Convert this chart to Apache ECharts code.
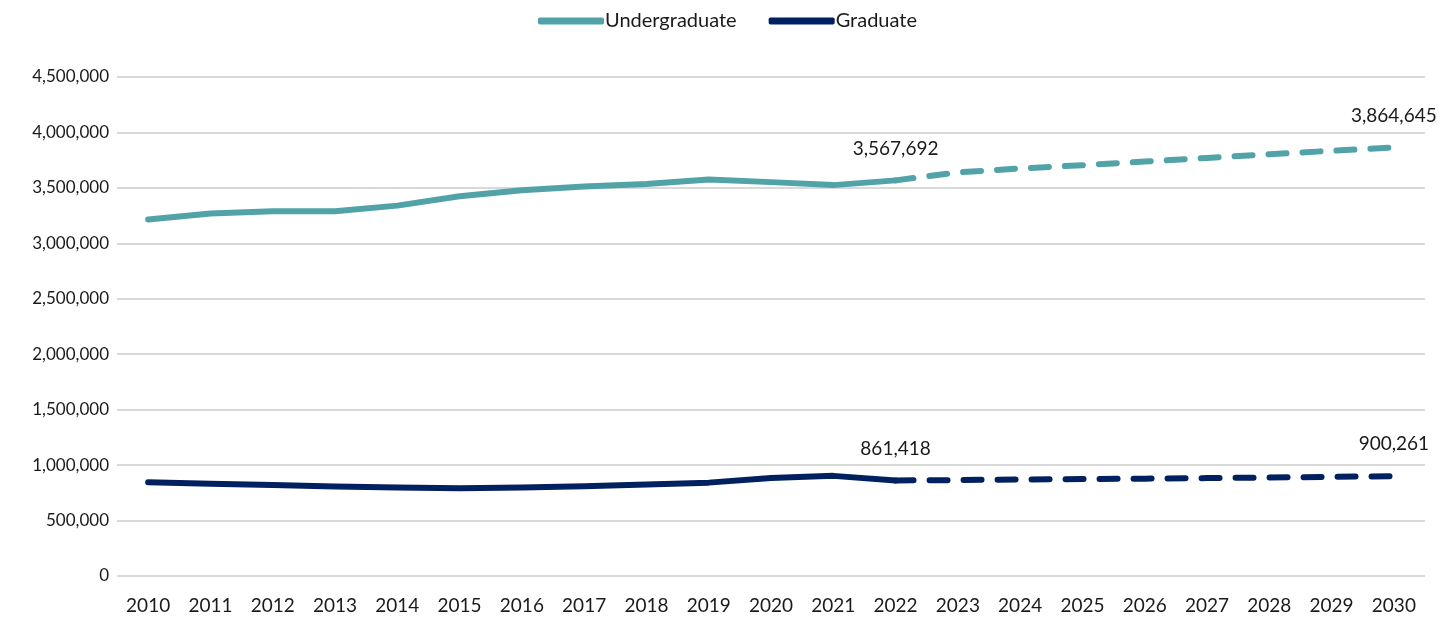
<!DOCTYPE html>
<html>
<head>
<meta charset="utf-8">
<script src="https://cdn.jsdelivr.net/npm/echarts@6/dist/echarts.min.js"></script>
<style>
  html, body { margin: 0; padding: 0; background: #fff; }
  #chart { width: 1455px; height: 619px; }
</style>
</head>
<body>
<div id="chart"></div>
<script>
// Enrollment by level, actual through 2022, projected to 2030
const years = ['2010','2011','2012','2013','2014','2015','2016','2017','2018','2019','2020',
               '2021','2022','2023','2024','2025','2026','2027','2028','2029','2030'];

const undergradActual = [3215000, 3270000, 3290000, 3290000, 3340000, 3425000, 3478000, 3512000,
                         3535000, 3575000, 3552000, 3525000, 3567692];
const undergradProjected = [3567692, 3640000, 3675000, 3705000, 3738000, 3770000, 3803000, 3835000, 3864645];

const gradActual = [845000, 833000, 820000, 806000, 798000, 792000, 797000, 810000,
                    826000, 842000, 883000, 903000, 861418];
const gradProjected = [861418, 865000, 870000, 874000, 878000, 883000, 888000, 894000, 900261];

const yTicks = [0, 500000, 1000000, 1500000, 2000000, 2500000, 3000000, 3500000, 4000000, 4500000];

const teal = '#52A3A8';
const navy = '#002060';
const fontFamily = 'Lato, "Open Sans", sans-serif';

const splitIdx = undergradActual.length - 1;

function solidSeries(vals) {
  return years.map((_, i) => (i < vals.length ? vals[i] : null));
}
function projectedSeries(vals) {
  return years.map((_, i) => (i >= splitIdx ? vals[i - splitIdx] : null));
}
function fmt(v) {
  return Number(v).toLocaleString('en-US');
}
// Show the value above the first and last projected points only
function endLabels(vals) {
  const n = projectedSeries(vals);
  const last = years.length - 1;
  return n.map((v, i) => {
    if (v === null) return null;
    if (i === splitIdx || i === last) {
      return { value: v, label: { show: true } };
    }
    return v;
  });
}

const lineLabel = {
  show: false,
  position: 'top',
  distance: 22,
  color: '#1a1a1a',
  fontSize: 19,
  fontFamily: fontFamily,
  formatter: p => fmt(p.value)
};

const chart = echarts.init(document.getElementById('chart'), null, { renderer: 'canvas' });
chart.setOption({
  animation: false,
  textStyle: { fontFamily: fontFamily },
  legend: {
    top: 6,
    left: 'center',
    itemWidth: 66,
    itemHeight: 7,
    itemGap: 32,
    icon: 'roundRect',
    textStyle: { fontSize: 20, color: '#1a1a1a', fontFamily: fontFamily, padding: [0, 0, 0, -4] },
    data: ['Undergraduate', 'Graduate']
  },
  grid: { left: 117, right: 30, top: 77, bottom: 43, containLabel: false },
  xAxis: {
    type: 'category',
    data: years,
    boundaryGap: true,
    axisLine: { show: false },
    axisTick: { show: false },
    axisLabel: { color: '#1a1a1a', fontSize: 19, margin: 20, fontFamily: fontFamily }
  },
  yAxis: {
    type: 'value',
    min: yTicks[0],
    max: yTicks[yTicks.length - 1],
    interval: yTicks[1] - yTicks[0],
    axisLine: { show: false },
    axisTick: { show: false },
    splitLine: { lineStyle: { color: '#d9d9d9', width: 2 } },
    axisLabel: { color: '#1a1a1a', fontSize: 17, margin: 8, fontFamily: fontFamily, formatter: v => fmt(v) }
  },
  series: [
    {
      name: 'Undergraduate', type: 'line', data: solidSeries(undergradActual),
      symbol: 'none', color: teal,
      lineStyle: { color: teal, width: 6, cap: 'round', join: 'round' }
    },
    {
      name: 'Undergraduate', type: 'line', data: endLabels(undergradProjected),
      symbol: 'circle', symbolSize: 1, showSymbol: true, showAllSymbol: true, color: teal,
      itemStyle: { color: 'rgba(0,0,0,0)', borderWidth: 0 },
      lineStyle: { color: teal, width: 6, type: [18, 16], cap: 'round', join: 'round' },
      label: lineLabel
    },
    {
      name: 'Graduate', type: 'line', data: solidSeries(gradActual),
      symbol: 'none', color: navy,
      lineStyle: { color: navy, width: 6, cap: 'round', join: 'round' }
    },
    {
      name: 'Graduate', type: 'line', data: endLabels(gradProjected),
      symbol: 'circle', symbolSize: 1, showSymbol: true, showAllSymbol: true, color: navy,
      itemStyle: { color: 'rgba(0,0,0,0)', borderWidth: 0 },
      lineStyle: { color: navy, width: 6, type: [18, 16], cap: 'round', join: 'round' },
      label: lineLabel
    }
  ]
});
</script>
</body>
</html>
